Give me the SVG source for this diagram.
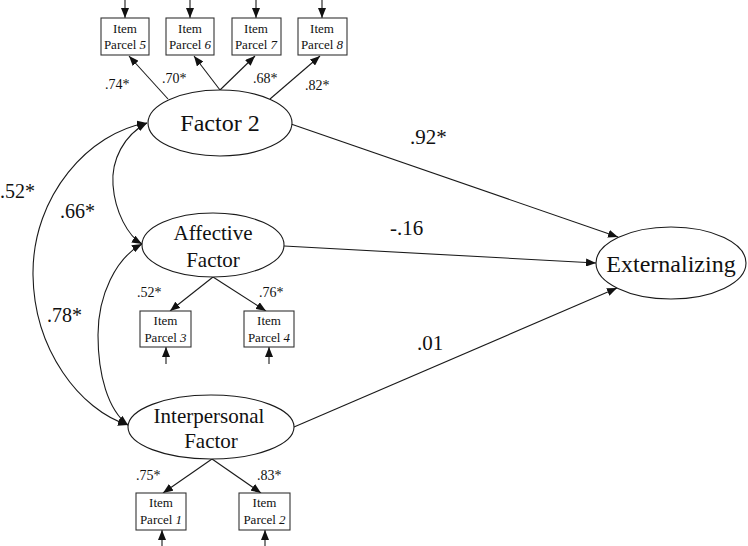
<svg xmlns="http://www.w3.org/2000/svg" width="748" height="546" viewBox="0 0 748 546">
<style>
.bg{fill:#fff}
.lat{fill:#fff;stroke:#1a1a1a;stroke-width:1.1}
.box{fill:#fff;stroke:#333;stroke-width:1.1}
.ln{fill:none;stroke:#1a1a1a;stroke-width:1.1}
text{font-family:'Liberation Serif','Times New Roman',Times,'DejaVu Serif',serif;fill:#111}
.big{font-size:24px;text-anchor:middle}
.mid{font-size:21px;text-anchor:middle}
.bx{font-size:13px;text-anchor:middle}
.ld{font-size:14px}
.pl{font-size:21px}
.cl{font-size:20px}
</style>
<defs>
<marker id="ah" viewBox="0 0 10 8" refX="10" refY="4" markerWidth="10" markerHeight="8" markerUnits="userSpaceOnUse" orient="auto-start-reverse">
<path d="M0,0 L10,4 L0,8 z" fill="#111"/>
</marker>
</defs>
<rect class="bg" x="0" y="0" width="748" height="546"/>
<g id="connectors">
<line class="ln" x1="125" y1="0" x2="125" y2="18" marker-end="url(#ah)"/>
<line class="ln" x1="190" y1="0" x2="190" y2="18" marker-end="url(#ah)"/>
<line class="ln" x1="256" y1="0" x2="256" y2="18" marker-end="url(#ah)"/>
<line class="ln" x1="322" y1="0" x2="322" y2="18" marker-end="url(#ah)"/>
<line class="ln" x1="168" y1="99" x2="129" y2="56" marker-end="url(#ah)"/>
<line class="ln" x1="220" y1="90" x2="194" y2="56" marker-end="url(#ah)"/>
<line class="ln" x1="220" y1="90" x2="255" y2="56" marker-end="url(#ah)"/>
<line class="ln" x1="270" y1="99" x2="320" y2="56" marker-end="url(#ah)"/>
<line class="ln" x1="213" y1="277" x2="170" y2="311" marker-end="url(#ah)"/>
<line class="ln" x1="213" y1="277" x2="266" y2="311" marker-end="url(#ah)"/>
<line class="ln" x1="166" y1="364" x2="166" y2="347" marker-end="url(#ah)"/>
<line class="ln" x1="269" y1="364" x2="269" y2="347" marker-end="url(#ah)"/>
<line class="ln" x1="212" y1="459" x2="163" y2="493" marker-end="url(#ah)"/>
<line class="ln" x1="212" y1="459" x2="261" y2="493" marker-end="url(#ah)"/>
<line class="ln" x1="162" y1="546" x2="162" y2="530" marker-end="url(#ah)"/>
<line class="ln" x1="265" y1="546" x2="265" y2="530" marker-end="url(#ah)"/>
<line class="ln" x1="291" y1="124" x2="618" y2="237" marker-end="url(#ah)"/>
<line class="ln" x1="284" y1="246" x2="596" y2="263" marker-end="url(#ah)"/>
<line class="ln" x1="294" y1="427" x2="617" y2="288" marker-end="url(#ah)"/>
<path class="ln" d="M147,123 C90,132 32,195 33,275 C34,350 80,410 128,425" marker-start="url(#ah)" marker-end="url(#ah)"/>
<path class="ln" d="M147,123 C124,135 111,160 113,185 C115,212 128,236 142,244" marker-start="url(#ah)" marker-end="url(#ah)"/>
<path class="ln" d="M142,244 C116,258 98,295 98,335 C98,375 108,410 128,425" marker-start="url(#ah)" marker-end="url(#ah)"/>
</g>
<g id="labels">
<text class="ld" x="105" y="89">.74*</text>
<text class="ld" x="162" y="83">.70*</text>
<text class="ld" x="253" y="83">.68*</text>
<text class="ld" x="305" y="90">.82*</text>
<text class="ld" x="137" y="297">.52*</text>
<text class="ld" x="259" y="297">.76*</text>
<text class="ld" x="136" y="480">.75*</text>
<text class="ld" x="257" y="480">.83*</text>
<text class="pl" x="410" y="144">.92*</text>
<text class="pl" x="390" y="235">-.16</text>
<text class="pl" x="417" y="350">.01</text>
<text class="cl" x="0" y="198">.52*</text>
<text class="cl" x="60" y="218">.66*</text>
<text class="cl" x="47" y="322">.78*</text>
</g>
<g id="factor2">
<ellipse class="lat" cx="220" cy="123" rx="72" ry="33"/>
<text class="big" x="220" y="131">Factor 2</text>
</g>
<g id="affective">
<ellipse class="lat" cx="213" cy="245" rx="71" ry="32"/>
<text class="mid" x="213" y="240">Affective</text>
<text class="mid" x="213" y="267">Factor</text>
</g>
<g id="interpersonal">
<ellipse class="lat" cx="211" cy="427" rx="83" ry="32"/>
<text class="mid" x="209" y="423">Interpersonal</text>
<text class="mid" x="211" y="448">Factor</text>
</g>
<g id="externalizing">
<ellipse class="lat" cx="671" cy="263" rx="75" ry="36"/>
<text class="big" x="671" y="272">Externalizing</text>
</g>
<g id="parcel5">
<rect class="box" x="101" y="18" width="48" height="37"/>
<text class="bx" x="125" y="33">Item</text>
<text class="bx" x="125" y="49">Parcel <tspan font-style="italic">5</tspan></text>
</g>
<g id="parcel6">
<rect class="box" x="166" y="18" width="48" height="37"/>
<text class="bx" x="190" y="33">Item</text>
<text class="bx" x="190" y="49">Parcel <tspan font-style="italic">6</tspan></text>
</g>
<g id="parcel7">
<rect class="box" x="232" y="18" width="49" height="37"/>
<text class="bx" x="256" y="33">Item</text>
<text class="bx" x="256" y="49">Parcel <tspan font-style="italic">7</tspan></text>
</g>
<g id="parcel8">
<rect class="box" x="298" y="18" width="49" height="37"/>
<text class="bx" x="322" y="33">Item</text>
<text class="bx" x="322" y="49">Parcel <tspan font-style="italic">8</tspan></text>
</g>
<g id="parcel3">
<rect class="box" x="140" y="311" width="51" height="36"/>
<text class="bx" x="165.5" y="325">Item</text>
<text class="bx" x="165.5" y="342">Parcel <tspan font-style="italic">3</tspan></text>
</g>
<g id="parcel4">
<rect class="box" x="244" y="311" width="50" height="36"/>
<text class="bx" x="269" y="325">Item</text>
<text class="bx" x="269" y="342">Parcel <tspan font-style="italic">4</tspan></text>
</g>
<g id="parcel1">
<rect class="box" x="136" y="493" width="50" height="37"/>
<text class="bx" x="161" y="507">Item</text>
<text class="bx" x="161" y="524">Parcel <tspan font-style="italic">1</tspan></text>
</g>
<g id="parcel2">
<rect class="box" x="239" y="493" width="51" height="37"/>
<text class="bx" x="264.5" y="507">Item</text>
<text class="bx" x="264.5" y="524">Parcel <tspan font-style="italic">2</tspan></text>
</g>
</svg>
